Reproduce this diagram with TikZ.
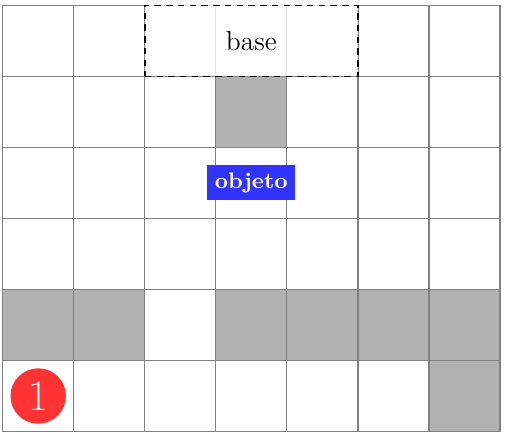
\documentclass[tikz,border=0pt]{standalone}
\begin{document}
\begin{tikzpicture}[
  cell/.style={fill=gray!60},
  gridline/.style={draw=gray, line width=0.5pt},
  basebox/.style={draw=black, line width=0.6pt, dash pattern=on 2.6pt off 2.1pt, fill=white, fill opacity=0.8, text opacity=1, minimum width=3cm, minimum height=1cm, inner sep=0pt, font=\fontsize{11}{13}\selectfont},
  objbox/.style={fill=blue!80, text=white, font=\small\bfseries, inner sep=3pt, minimum height=0.47cm},
  marker/.style={circle, fill=red!80, text=white, font=\LARGE, minimum size=0.78cm, inner sep=0pt}
]
\useasboundingbox (-0.038,-0.103) rectangle (7.099,6.075);
\foreach \x/\y in {3/4, 0/1, 1/1, 3/1, 4/1, 5/1, 6/1, 6/0}
  \fill[cell] (\x,\y) rectangle ++(1,1);
\draw[gridline] (0,0) grid (7,6);
\node[basebox] (base) at (3.5,5.5) {base};
\node[objbox] (objeto) at (3.5,3.5) {objeto};
\node[marker] (uno) at (0.5,0.5) {1};
\end{tikzpicture}
\end{document}
